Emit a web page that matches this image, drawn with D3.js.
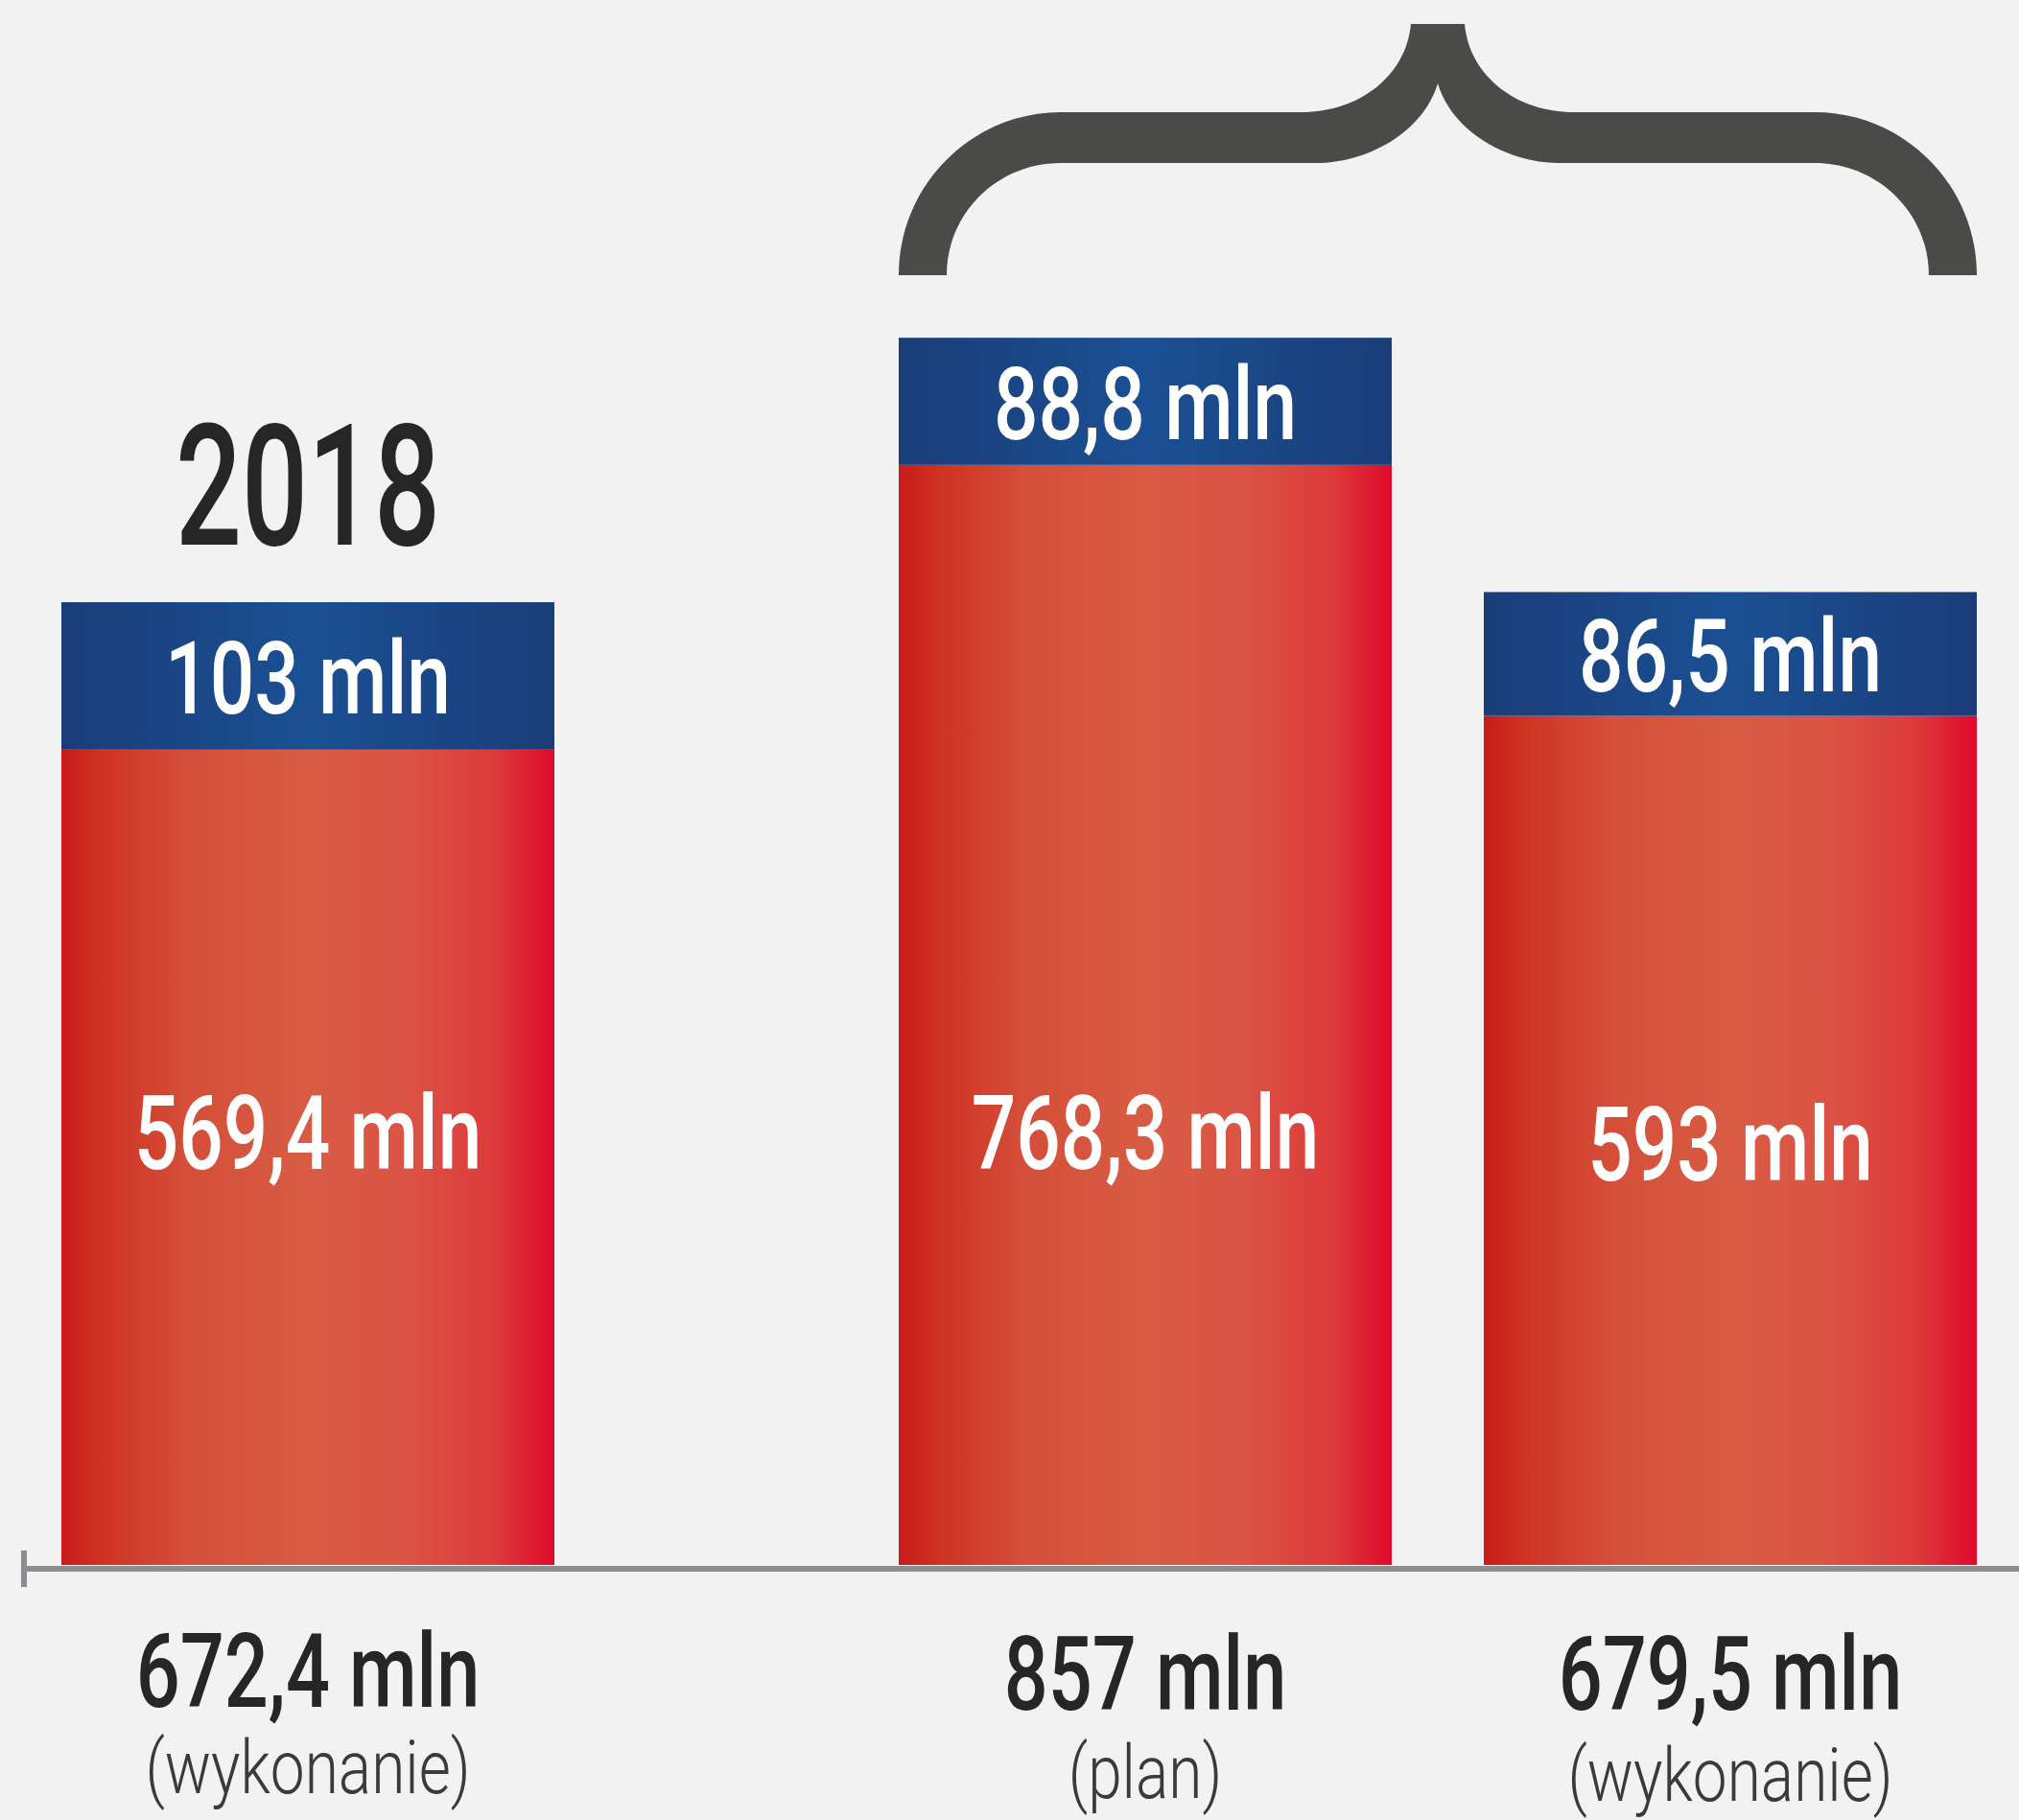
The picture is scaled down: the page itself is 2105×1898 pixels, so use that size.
<!DOCTYPE html>
<meta charset="utf-8">
<style>

body {
  margin: 0;
  background: #f2f2f2;
}

svg {
  display: block;
}

.label {
  font-family: Roboto, sans-serif;
  text-anchor: middle;
}

.value { font-weight: 500; fill: #fff; }
.total { font-weight: 500; fill: #262626; }
.kind  { font-weight: 300; fill: #3a3a3a; }
.year  { font-weight: 500; fill: #262626; }

</style>
<svg width="2105" height="1898"></svg>
<script src="https://d3js.org/d3.v7.min.js"></script>
<script>

// data
var years      = ["2018", "2019", "2019"];
var kinds      = ["(wykonanie)", "(plan)", "(wykonanie)"];
var redValues  = [569.4, 768.3, 593];
var blueValues = [103, 88.8, 86.5];
var totals     = [672.4, 857, 679.5];

var svg = d3.select("svg"),
    width = +svg.attr("width"),
    height = +svg.attr("height");

var pl = d3.formatLocale({decimal: ",", thousands: " ", grouping: [3], currency: ["", " zł"]});
var fmt = pl.format(".1~f");
var mln = function(v) { return fmt(v) + " mln"; };

// layout
var left = 64, barW = 514, barGap = 96, groupGap = 359,
    baseline = 1632;

var bars = redValues.map(function(r, i) {
  return {year: years[i], kind: kinds[i], red: r, blue: blueValues[i], total: totals[i]};
});

// x: bars sit side by side inside a year, with a wider gap between years
var cursor = left;
bars.forEach(function(d, i) {
  if (i > 0) cursor += (d.year === bars[i - 1].year ? barGap : groupGap);
  d.x = cursor;
  cursor += barW;
});

var yScale = d3.scaleLinear().domain([0, 1093]).range([baseline, 0]);

// gradients
var defs = svg.append("defs");

var redGrad = defs.append("linearGradient").attr("id", "red");
[[0, "#c81b1a"], [0.08, "#cf3222"], [0.25, "#d44e38"], [0.5, "#d85c44"],
 [0.7, "#db5344"], [0.88, "#dc3a3a"], [1, "#df0a2c"]].forEach(function(s) {
  redGrad.append("stop").attr("offset", s[0]).attr("stop-color", s[1]);
});

var blueGrad = defs.append("linearGradient").attr("id", "blue");
[[0, "#1a3d78"], [0.5, "#1a5094"], [1, "#1a3d78"]].forEach(function(s) {
  blueGrad.append("stop").attr("offset", s[0]).attr("stop-color", s[1]);
});

svg.append("rect").attr("width", width).attr("height", height).attr("fill", "#f2f2f2");

// bars
var bar = svg.selectAll(".bar")
  .data(bars)
  .enter().append("g")
  .attr("class", "bar");

bar.append("rect")
    .attr("x", function(d) { return d.x; })
    .attr("y", function(d) { return yScale(d.red); })
    .attr("width", barW)
    .attr("height", function(d) { return baseline - yScale(d.red); })
    .attr("fill", "url(#red)");

bar.append("rect")
    .attr("x", function(d) { return d.x; })
    .attr("y", function(d) { return yScale(d.red + d.blue); })
    .attr("width", barW)
    .attr("height", function(d) { return yScale(d.red) - yScale(d.red + d.blue); })
    .attr("fill", "url(#blue)");

// axis line with a tick at its start
svg.append("line")
    .attr("x1", 22).attr("x2", width)
    .attr("y1", baseline + 4).attr("y2", baseline + 4)
    .attr("stroke", "#8b8d91")
    .attr("stroke-width", 6);

svg.append("line")
    .attr("x1", 25).attr("x2", 25)
    .attr("y1", baseline - 15).attr("y2", baseline + 23)
    .attr("stroke", "#8b8d91")
    .attr("stroke-width", 6);

// condensed text: squeeze horizontally around the anchor point
function label(sel, cls, size, sx, x, y, txt) {
  sel.append("g")
      .attr("transform", function(d, i) { return "translate(" + x(d, i) + "," + y(d, i) + ") scale(" + sx + ",1)"; })
    .append("text")
      .attr("class", "label " + cls)
      .style("font-size", size + "px")
      .text(txt);
}

var cx = function(d) { return d.x + barW / 2; };

label(bar, "value", 105, 0.78, cx,
  function(d) { return (yScale(d.red) + yScale(d.red + d.blue)) / 2 + 39; },
  function(d) { return mln(d.blue); });

label(bar, "value", 107, 0.765, cx,
  function(d, i) { return i === 2 ? 1231 : 1219; },
  function(d) { return mln(d.red); });

label(bar, "total", 108, 0.75, cx,
  function(d, i) { return i === 0 ? 1780 : 1783; },
  function(d) { return mln(d.total); });

label(bar, "kind", 78, 0.82, cx,
  function(d, i) { return [1870, 1875, 1878][i]; },
  function(d) { return d.kind; });

// year caption over the single 2018 bar
label(svg.selectAll(".yr").data(bars.filter(function(d) { return d.year === "2018"; })).enter(),
  "year", 176, 0.69, cx,
  function(d) { return 568; },
  function(d) { return d.year; });

// brace over the 2019 group, drawn as a filled outline
var g19 = bars.filter(function(d) { return d.year === "2019"; }),
    x0 = d3.min(g19, function(d) { return d.x; }),
    x1 = d3.max(g19, function(d) { return d.x + barW; }),
    mid = (x0 + x1) / 2;

function brace() {
  var legY = 287, topY = 117, botY = 170, tipY = 25, notchY = 87,
      leg = 50, r = 169, tipHalf = 28;
  var p = d3.path();
  p.moveTo(x0, legY);
  p.bezierCurveTo(x0, 193, x0 + 76, topY, x0 + r, topY);
  p.lineTo(mid - 142, topY);
  p.bezierCurveTo(mid - 83, topY, mid - 33, 80, mid - tipHalf, tipY);
  p.lineTo(mid + tipHalf, tipY);
  p.bezierCurveTo(mid + 33, 80, mid + 83, topY, mid + 142, topY);
  p.lineTo(x1 - r, topY);
  p.bezierCurveTo(x1 - 76, topY, x1, 193, x1, legY);
  p.lineTo(x1 - leg, legY);
  p.bezierCurveTo(x1 - leg, 222, x1 - 103, botY, x1 - r, botY);
  p.lineTo(mid + 126, botY);
  p.bezierCurveTo(mid + 76, botY, mid + 16, 140, mid, notchY);
  p.bezierCurveTo(mid - 16, 140, mid - 76, botY, mid - 126, botY);
  p.lineTo(x0 + r, botY);
  p.bezierCurveTo(x0 + 103, botY, x0 + leg, 222, x0 + leg, legY);
  p.closePath();
  return p.toString();
}

svg.append("path")
    .attr("class", "brace")
    .attr("d", brace())
    .attr("fill", "#4a4a48");

</script>
